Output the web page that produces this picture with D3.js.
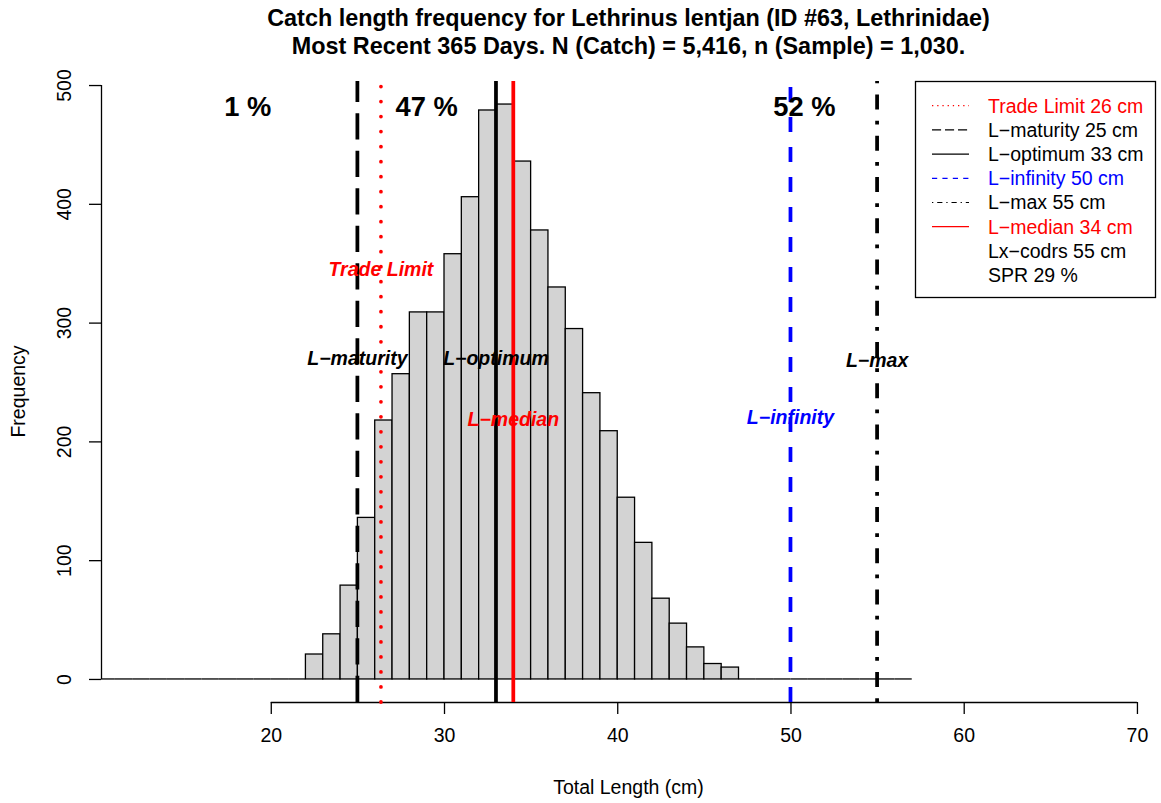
<!DOCTYPE html>
<html>
<head>
<meta charset="utf-8">
<script src="https://cdn.jsdelivr.net/npm/d3@7"></script>
<style>
  body { margin: 0; background: #fff; }
  svg text { font-family: "Liberation Sans", Arial, Helvetica, sans-serif; }
</style>
</head>
<body>
<svg id="chart"></svg>
<script>
// histogram data (1 cm bins, lower edges) and counts
const breaks = [10, 11, 12, 13, 14, 15, 16, 17, 18, 19, 20, 21, 22, 23, 24, 25, 26, 27, 28, 29, 30, 31, 32, 33,
                34, 35, 36, 37, 38, 39, 40, 41, 42, 43, 44, 45, 46, 47, 48, 49, 50, 51, 52, 53, 54, 55, 56, 57];
const counts = [0, 0, 0, 0, 0, 0, 0, 0, 0, 0, 0, 0, 21, 38, 79, 136, 218, 257, 309, 309, 358, 406, 479,
                484, 436, 378, 330, 295, 241, 209, 153, 115, 68, 47, 27, 13, 10, 0, 0, 0, 0, 0, 0, 0, 0, 0, 0];

const xTicks = [20, 30, 40, 50, 60, 70];
const yTicks = [0, 100, 200, 300, 400, 500];

// reference lengths
const refNames  = ["Trade Limit", "L\u2212maturity", "L\u2212optimum", "L\u2212infinity", "L\u2212max", "L\u2212median"];
const refValues = [26.36, 25, 33, 50, 55, 34];
const refColors = ["red", "black", "black", "blue", "black", "red"];
const refLty    = ["dotted", "longdash", "solid", "dashed", "dotdash", "solid"];
// label anchor (x in cm, y in frequency units)
const refLabelX = [26.36, 25, 33, 50, 55, 34];
const refLabelY = [345, 270, 270, 220, 268, 219];

// percent of catch in each zone
const pctLabels = ["1 %", "47 %", "52 %"];
const pctX = [18.67, 29.0, 50.8];
const pctY = 482;

// legend
const legendText  = ["Trade Limit 26 cm", "L\u2212maturity 25 cm", "L\u2212optimum 33 cm", "L\u2212infinity 50 cm",
                     "L\u2212max 55 cm", "L\u2212median 34 cm", "Lx\u2212codrs 55 cm", "SPR 29 %"];
const legendColor = ["red", "black", "black", "blue", "black", "red", "black", "black"];
const legendLty   = ["dotted", "longdash", "solid", "dashed", "dotdash", "solid", null, null];

const titleLines = ["Catch length frequency for Lethrinus lentjan (ID #63, Lethrinidae)",
                    "Most Recent 365 Days. N (Catch) = 5,416, n (Sample) = 1,030."];

const width = 1161, height = 803;
const plot = { left: 101, right: 1156, top: 81, bottom: 702 };
const fs = 19.5;

const svg = d3.select("#chart").attr("width", width).attr("height", height);

const x = d3.scaleLinear().domain([10.2, 71.1]).range([plot.left, plot.right]);
const y = d3.scaleLinear().domain([-19.4, 503.4]).range([plot.bottom, plot.top]);

// R style line types, scaled by line width
function dash(lty, lw) {
    const pat = { dotted: [1, 3], dashed: [4, 4], longdash: [7, 3], dotdash: [1, 3, 4, 3] }[lty];
    return pat ? pat.map(v => v * lw).join(",") : null;
}

svg.append("clipPath").attr("id", "plotclip")
    .append("rect")
    .attr("x", plot.left).attr("y", plot.top)
    .attr("width", plot.right - plot.left).attr("height", plot.bottom - plot.top);

const bins = counts.map((c, i) => ({ x0: breaks[i], x1: breaks[i + 1], n: c }));
const gBars = svg.append("g").attr("clip-path", "url(#plotclip)");

// empty bins collapse to a line on zero
gBars.selectAll("line.empty")
    .data(bins.filter(d => d.n === 0))
    .join("line")
    .attr("class", "empty")
    .attr("x1", d => x(d.x0)).attr("x2", d => x(d.x1))
    .attr("y1", y(0)).attr("y2", y(0))
    .attr("stroke", "black")
    .attr("stroke-width", 1.3);

gBars.selectAll("rect")
    .data(bins.filter(d => d.n > 0))
    .join("rect")
    .attr("x", d => x(d.x0))
    .attr("y", d => y(d.n))
    .attr("width", d => x(d.x1) - x(d.x0))
    .attr("height", d => y(0) - y(d.n))
    .attr("fill", "#d3d3d3")
    .attr("stroke", "black")
    .attr("stroke-width", 1.3);

// title
svg.selectAll(".title")
    .data(titleLines)
    .join("text")
    .attr("x", (plot.left + plot.right) / 2)
    .attr("y", (d, i) => 26 + i * 28)
    .attr("text-anchor", "middle")
    .attr("font-size", 23.4)
    .attr("font-weight", "bold")
    .text(d => d);

// x axis
const xAxis = svg.append("g").attr("transform", `translate(0,${plot.bottom})`)
    .call(d3.axisBottom(x).tickValues(xTicks).tickSize(12).tickPadding(14).tickFormat(d3.format("d")));
xAxis.select(".domain").attr("d", `M${x(xTicks[0])},0.5H${x(xTicks[xTicks.length - 1])}`);
xAxis.selectAll("path, line").attr("stroke", "black").attr("stroke-width", 1.3);
xAxis.selectAll("text").attr("font-size", fs).attr("font-family", "Liberation Sans, Arial").attr("fill", "black");

// y axis with rotated labels
const yAxis = svg.append("g").attr("transform", `translate(${plot.left},0)`)
    .call(d3.axisLeft(y).tickValues(yTicks).tickSize(12).tickFormat(d3.format("d")));
yAxis.select(".domain").attr("d", `M0.5,${y(yTicks[0])}V${y(yTicks[yTicks.length - 1])}`);
yAxis.selectAll("path, line").attr("stroke", "black").attr("stroke-width", 1.3);
yAxis.selectAll("text")
    .attr("font-size", fs).attr("font-family", "Liberation Sans, Arial").attr("fill", "black")
    .attr("x", null).attr("dy", null)
    .attr("text-anchor", "middle")
    .attr("transform", "translate(-30,0) rotate(-90)");

// axis titles
svg.append("text")
    .attr("x", (plot.left + plot.right) / 2)
    .attr("y", 794)
    .attr("text-anchor", "middle")
    .attr("font-size", fs)
    .text("Total Length (cm)");

svg.append("text")
    .attr("transform", `translate(25,${(plot.top + plot.bottom) / 2}) rotate(-90)`)
    .attr("text-anchor", "middle")
    .attr("font-size", fs)
    .text("Frequency");

// reference lines
const lw = 3.75;
svg.append("g").selectAll("line")
    .data(refValues.map((v, i) => ({ v, c: refColors[i], lty: refLty[i] })))
    .join("line")
    .attr("x1", d => x(d.v)).attr("x2", d => x(d.v))
    .attr("y1", plot.bottom).attr("y2", plot.top)
    .attr("stroke", d => d.c)
    .attr("stroke-width", lw)
    .attr("stroke-dasharray", d => d.lty === "dotted" ? `0.01,${4 * lw}` : dash(d.lty, lw))
    .attr("stroke-linecap", d => d.lty === "dotted" ? "round" : "butt");

// percent labels
svg.selectAll(".pct")
    .data(pctLabels)
    .join("text")
    .attr("x", (d, i) => x(pctX[i]))
    .attr("y", y(pctY))
    .attr("dy", "0.35em")
    .attr("text-anchor", "middle")
    .attr("font-size", 27.3)
    .attr("font-weight", "bold")
    .text(d => d);

// line labels
svg.selectAll(".reflab")
    .data(refNames)
    .join("text")
    .attr("x", (d, i) => x(refLabelX[i]))
    .attr("y", (d, i) => y(refLabelY[i]))
    .attr("dy", "0.35em")
    .attr("text-anchor", "middle")
    .attr("font-size", fs)
    .attr("font-weight", "bold")
    .attr("font-style", "italic")
    .attr("fill", (d, i) => refColors[i])
    .text(d => d);

// legend
const leg = svg.append("g").attr("transform", "translate(915,81)");
leg.append("rect")
    .attr("x", 0.5).attr("y", 0.5)
    .attr("width", 240).attr("height", 216)
    .attr("fill", "white")
    .attr("stroke", "black")
    .attr("stroke-width", 1.3);

const rows = leg.selectAll("g.row")
    .data(legendText)
    .join("g")
    .attr("transform", (d, i) => `translate(0,${24.7 + i * 24.2})`);

rows.filter((d, i) => legendLty[i] !== null)
    .append("line")
    .attr("x1", 17).attr("x2", 54)
    .attr("stroke", d => legendColor[legendText.indexOf(d)])
    .attr("stroke-width", 1.2)
    .attr("stroke-dasharray", d => dash(legendLty[legendText.indexOf(d)], 1.3));

rows.append("text")
    .attr("x", 73)
    .attr("dy", "0.35em")
    .attr("font-size", fs)
    .attr("fill", (d, i) => legendColor[i])
    .text(d => d);
</script>
</body>
</html>
